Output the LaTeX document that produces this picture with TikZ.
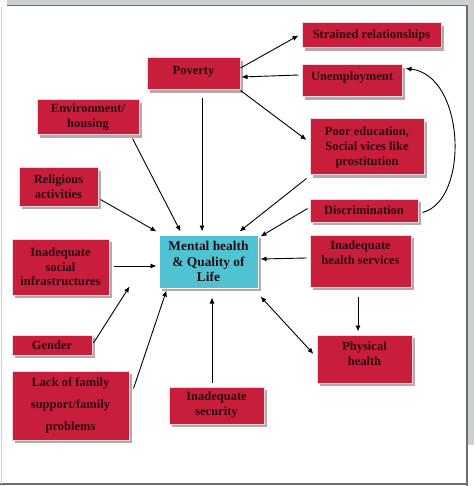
\documentclass[tikz,border=0pt]{standalone}
\usepackage{fontspec}
\setmainfont{Liberation Serif}
\usetikzlibrary{arrows.meta,calc,shadows}
\definecolor{boxred}{HTML}{C81E3C}
\definecolor{boxcyan}{HTML}{50C3D2}
\definecolor{txt}{HTML}{2A0A10}
\definecolor{edgepink}{HTML}{F2D6DA}
\definecolor{shade}{HTML}{B4A8AA}
\definecolor{framedark}{HTML}{6E6E6E}
\definecolor{framelight}{HTML}{CDD0D0}
\begin{document}
\begin{tikzpicture}[x=1pt,y=-1pt,
  box/.style={rectangle, fill=boxred, draw=edgepink, line width=1pt, inner sep=1pt,
    align=center, text=txt, font=\fontsize{12.5}{15}\selectfont\bfseries,
    drop shadow={shadow xshift=3pt,shadow yshift=-3pt,fill=shade,opacity=1}},
  cbox/.style={box, fill=boxcyan, draw=white, font=\fontsize{13.4}{15.5}\selectfont\bfseries},
  sz/.style 2 args={minimum width=#1pt, minimum height=#2pt},
  tip/.tip={Latex[length=6pt,width=5pt]},
  arr/.style={-tip, line width=0.9pt, black},
  arrboth/.style={tip-tip, line width=0.9pt, black}]
\useasboundingbox (0,0) rectangle (474,486);
% frame
\fill[framelight] (7,0) rectangle (474,5);
\fill[framelight] (467,0) rectangle (474,445);
\draw[framedark, line width=1.5pt] (7,5.5) -- (467,5.5) -- (467,486);
\draw[framedark, line width=1.5pt] (0,484) -- (467,484);
\draw[framelight, line width=1.5pt] (1.5,7) -- (1.5,484);
% nodes
\node[box, sz={93}{32}, text depth=6.5pt] (poverty) at (193.5,74) {Poverty};
\node[box, sz={102}{35}] (env) at (88,117.5) {Environment/\\housing};
\node[box, sz={79}{38}] (relig) at (58.5,187) {Religious\\activities};
\node[box, sz={97}{56}, font=\fontsize{12.5}{14.5}\selectfont\bfseries] (infra) at (60.5,267) {Inadequate\\social\\infrastructures};
\node[box, sz={80}{20}, text depth=0pt] (gender) at (52,345) {Gender};
\node[box, sz={117}{69}] (lack) at (70.5,405.5) {Lack of family\\[7pt]support/family\\[7pt]problems};
\node[box, sz={95}{37}] (security) at (216.5,405.5) {Inadequate\\security};
\node[cbox, sz={99}{53}] (mh) at (208.5,261.5) {Mental health\\\& Quality of\\Life};
\node[box, sz={139}{25}] (strained) at (371.5,35.5) {Strained relationships};
\node[box, sz={100}{32}, text depth=10.6pt] (unemp) at (352,81) {Unemployment};
\node[box, sz={114}{56}] (poored) at (367,147) {Poor education,\\Social vices like\\prostitution};
\node[box, sz={108}{23}] (discr) at (364,210.5) {Discrimination};
\node[box, sz={101}{52}, text depth=16.7pt] (hs) at (360.5,261) {Inadequate\\health services};
\node[box, sz={95}{48}, text depth=9.7pt] (phys) at (364.5,359) {Physical\\health};
% connectors
\draw[arr] ($(poverty.east)+(0,-6)$) -- ($(strained.west)+(-3,0)$);
\draw[arr] ($(unemp.west)+(-3,-6)$) -- ($(poverty.east)+(1,3)$);
\draw[arr] (poverty.south east) -- ($(poored.west)+(-3,-7)$);
\draw[arr] ($(poored.south west)+(-3,3)$) -- ($(mh.north east)+(-19,-3)$);
\draw[arr] ($(discr.west)+(-2,-2)$) -- ($(mh.north east)+(2,2)$);
\draw[arr] ($(discr.east)+(4,2)$) .. controls (470,200) and (465,75) .. ($(unemp.north east)+(3,4)$);
\draw[arr] ($(poverty.south)+(8.5,8)$) -- ($(mh.north)+(-6.5,-3)$);
\draw[arr] ($(env.south east)+(-7,3)$) -- ($(mh.north west)+(22,-3)$);
\draw[arr] ($(relig.south east)+(2,-7)$) -- ($(mh.north west)+(-2,-3)$);
\draw[arr] ($(infra.east)+(4,-1)$) -- ($(mh.west)+(-2,4.5)$);
\draw[arr] ($(gender.east)+(1,-2)$) -- ($(mh.south west)+(-29,-2)$);
\draw[arr] ($(lack.north east)+(4,18)$) -- ($(mh.south west)+(8,2)$);
\draw[arr] ($(security.north)+(-4.5,-4)$) -- ($(mh.south)+(3.5,9)$);
\draw[arr] ($(hs.west)+(-3,-3)$) -- ($(mh.east)+(2,-2.5)$);
\draw[arr] ($(hs.south)+(-2.5,9)$) -- ($(phys.north)+(-6.5,-3)$);
\draw[arrboth] ($(mh.south east)+(2,8)$) -- ($(phys.west)+(-3,-5)$);
\end{tikzpicture}
\end{document}
